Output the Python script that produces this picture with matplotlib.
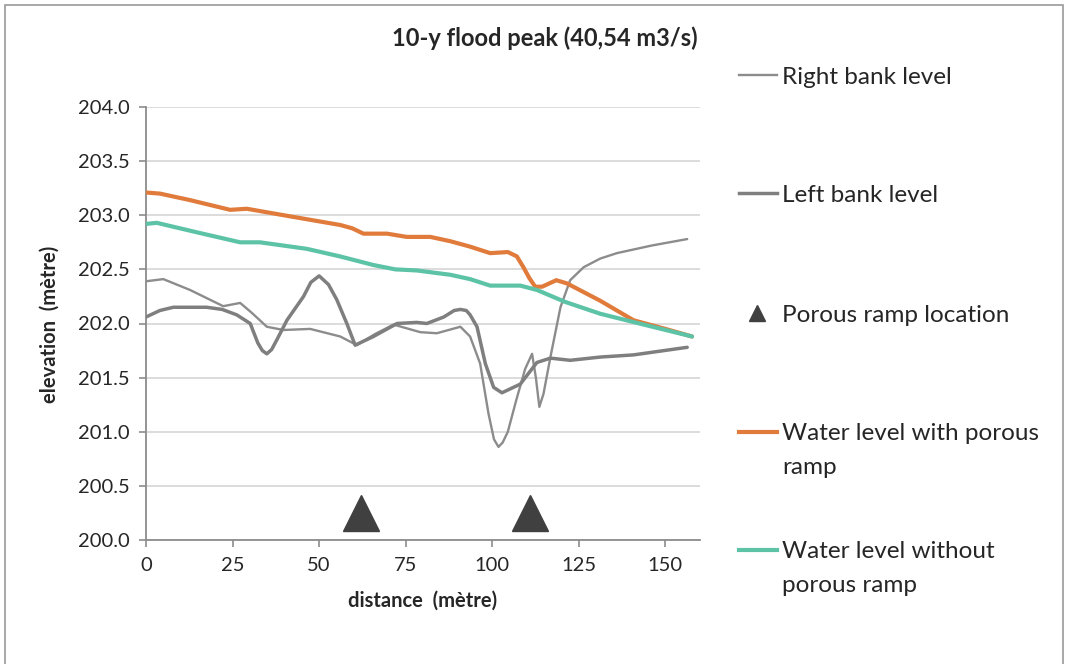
import matplotlib
matplotlib.use('agg')
import matplotlib.pyplot as plt
from matplotlib.lines import Line2D
from matplotlib.patches import Rectangle

plt.rcParams['font.family'] = ['Lato', 'DejaVu Sans']

# data
right_x = [0, 5, 12.7, 22.3, 27.2, 30.5, 34.9, 39.7, 47.4, 56.1, 60.9, 66, 71.5, 79.2, 84, 90.8,
           93.6, 96.5, 98.9, 100.5, 101.8, 103, 104.5, 107, 109.5, 111.5, 112.6, 113.6, 114.8,
           116.8, 119.7, 122.5, 126.4, 131.2, 136, 146, 156.3]
right_y = [202.39, 202.41, 202.31, 202.16, 202.19, 202.10, 201.97, 201.94, 201.95, 201.88, 201.80,
           201.90, 201.99, 201.92, 201.91, 201.97, 201.88, 201.63, 201.17, 200.93, 200.86, 200.90,
           201.0, 201.3, 201.58, 201.72, 201.5, 201.23, 201.35, 201.69, 202.15, 202.40, 202.52,
           202.60, 202.65, 202.72, 202.78]

left_x = [0, 4, 7.9, 17.5, 22, 26.2, 30.1, 32.3, 33.6, 34.9, 36.3, 37.8, 40.7, 45.5, 47.6, 50.0,
          52.7, 55.1, 58, 60.4, 65.7, 72.5, 78.2, 81.1, 86, 89, 90.8, 92.5, 93.6, 95.6, 98, 100.4,
          102.8, 108.1, 112.9, 116.8, 122.5, 131.2, 140.8, 156.3]
left_y = [202.06, 202.12, 202.15, 202.15, 202.13, 202.08, 202.0, 201.82, 201.75, 201.72, 201.76,
          201.85, 202.03, 202.25, 202.38, 202.44, 202.36, 202.22, 202.0, 201.80, 201.88, 202.0,
          202.01, 202.0, 202.06, 202.12, 202.13, 202.12, 202.08, 201.97, 201.63, 201.41, 201.36,
          201.44, 201.64, 201.68, 201.66, 201.69, 201.71, 201.78]

ramp_x = [62, 111]
ramp_y = [200.25, 200.25]

with_x = [0, 4, 12.7, 24.3, 29.1, 41.6, 56.1, 59.5, 61.5, 62.8, 69.6, 75.3, 82.1, 87.9, 93.6,
          99.4, 104.5, 107.1, 109.0, 110.7, 112.4, 114.4, 118.5, 121.6, 131.2, 140.8, 150, 157.7]
with_y = [203.21, 203.20, 203.14, 203.05, 203.06, 202.99, 202.91, 202.88, 202.85, 202.83, 202.83,
          202.80, 202.80, 202.76, 202.71, 202.65, 202.66, 202.62, 202.52, 202.42, 202.34, 202.34,
          202.40, 202.37, 202.21, 202.03, 201.95, 201.88]

without_x = [0, 3.1, 15, 27.2, 32.9, 46.4, 56, 65.7, 72, 78.2, 87.9, 93.6, 99.4, 108.1, 112.9,
             121, 131.2, 145, 157.7]
without_y = [202.92, 202.93, 202.84, 202.75, 202.75, 202.69, 202.62, 202.54, 202.50, 202.49,
             202.45, 202.41, 202.35, 202.35, 202.31, 202.20, 202.09, 201.98, 201.88]

labels = ['Right bank level', 'Left bank level', 'Porous ramp location',
          'Water level with porous\nramp', 'Water level without\nporous ramp']
yticks = [200.0, 200.5, 201.0, 201.5, 202.0, 202.5, 203.0, 203.5, 204.0]
xticks = [0, 25, 50, 75, 100, 125, 150]

c_right = '#8c8c8c'
c_left = '#7f7f7f'
c_ramp = '#404040'
c_with = '#E07B3C'
c_without = '#5CC3A6'
txt = '#262626'

W, H = 1068, 664
fig = plt.figure(figsize=(W / 100, H / 100), dpi=100)
fig.add_artist(Rectangle((5 / W, -0.02), (1063 - 5) / W, 1.02 - 5 / H, transform=fig.transFigure,
                         fill=False, edgecolor='#9a9a9a', lw=1.2))

ax = fig.add_axes([146 / W, 1 - 540 / H, (700 - 146) / W, 433 / H])
ax.plot(right_x, right_y, color=c_right, lw=1.7, solid_capstyle='round', solid_joinstyle='round', zorder=3)
ax.plot(left_x, left_y, color=c_left, lw=2.5, solid_capstyle='round', solid_joinstyle='round', zorder=3)
ax.plot(ramp_x, ramp_y, ls='none', marker='^', ms=26, color=c_ramp, zorder=3)
ax.plot(with_x, with_y, color=c_with, lw=3.0, solid_capstyle='round', solid_joinstyle='round', zorder=3)
ax.plot(without_x, without_y, color=c_without, lw=3.0, solid_capstyle='round', solid_joinstyle='round', zorder=3)

ax.set_xlim(0, 160)
ax.set_ylim(200, 204)
ax.set_xticks(xticks)
ax.set_yticks(yticks)
ax.set_yticklabels(['%.1f' % v for v in yticks])
ax.grid(axis='y', color='#d9d9d9', lw=1.3, zorder=0)
for s in ['top', 'right']:
    ax.spines[s].set_visible(False)
for s in ['left', 'bottom']:
    ax.spines[s].set_color('#8c8c8c')
    ax.spines[s].set_linewidth(1.3)
ax.tick_params(colors='#8c8c8c', labelcolor=txt, labelsize=14.5, length=5, width=1.2, pad=7)
ax.set_xlabel('distance  (mètre)', fontsize=14.5, fontweight='bold', color=txt, labelpad=12)
fig.text(50 / W, 1 - 324 / H, 'elevation  (mètre)', rotation=90, ha='center', va='center',
         fontsize=14.5, fontweight='bold', color=txt)

fig.text(545 / W, 1 - 38 / H, '10-y flood peak (40,54 m3/s)', ha='center', va='center',
         fontsize=17, fontweight='bold', color=txt)

# legend, laid out like the original at the right of the plot
handles = [dict(color=c_right, lw=1.7), dict(color=c_left, lw=2.5), None,
           dict(color=c_with, lw=3.0), dict(color=c_without, lw=3.0)]
rows = [75, 193, 313, 432, 550]
for lab, h, py in zip(labels, handles, rows):
    fy = 1 - py / H
    if h is None:
        fig.add_artist(Line2D([757 / W], [fy], marker='^', ms=11, color=c_ramp, ls='none',
                              transform=fig.transFigure))
    else:
        fig.add_artist(Line2D([739 / W, 777 / W], [fy, fy], transform=fig.transFigure, **h))
    for i, line in enumerate(lab.split('\n')):
        fig.text(782 / W, 1 - (py + 33 * i) / H, line, ha='left', va='center_baseline',
                 fontsize=17.5, color=txt)

fig.savefig('out.png', dpi=100)
